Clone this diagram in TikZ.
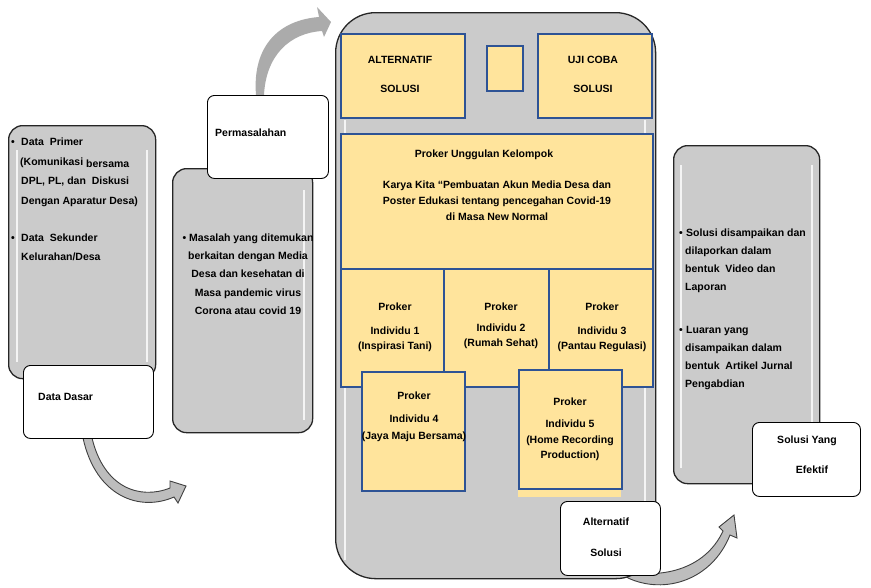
\documentclass[tikz,border=0pt]{standalone}
\usepackage{fontspec}
\setmainfont{Liberation Sans}
\definecolor{ylw}{HTML}{FFE49C}
\definecolor{blu}{HTML}{2E5395}
\definecolor{gry}{HTML}{CBCBCB}
\definecolor{arr}{HTML}{BDBDBD}
\tikzset{
 graybox/.style={draw=black!85, line width=1.3pt, fill=gry, rounded corners=14pt, inner sep=0pt},
 whitebox/.style={draw=black, line width=0.9pt, fill=white, rounded corners=7pt, inner sep=0pt},
 ybox/.style={draw=blu, line width=2pt, fill=ylw, inner sep=0pt},
 tx/.style={font=\bfseries\fontsize{10.5}{#1}\selectfont, inner sep=0pt, align=center},
 tx/.default=13,
 hl/.style={draw=white, line width=2pt, opacity=0.8},
 arrowd/.style={fill=arr, draw=black!75, line width=0.9pt},
 arrowl/.style={fill=black!33},
}
\begin{document}
\begin{tikzpicture}[x=1pt,y=-1pt]
\useasboundingbox (0,0) rectangle (871,587);

% curved arrows
\fill[arrowl] (256,95) .. controls (252,45) and (280,20) .. (319,17) -- (317,7) -- (331,22) -- (324,37) -- (322,31) .. controls (290,33) and (266,55) .. (264,95) -- cycle;
\filldraw[arrowd] (83,438) .. controls (96,497) and (140,512) .. (174,497) -- (178,503) -- (186,486) -- (170,481) -- (170,488) .. controls (140,500) and (104,488) .. (92,438) -- cycle;
\filldraw[arrowd] (620,570) .. controls (660,580) and (705,570) .. (723,531) -- (719,527) -- (734,515) -- (737,538) -- (730,535) .. controls (712,580) and (665,595) .. (628,578) -- cycle;

% gray panels
\node[graybox, anchor=north west, minimum width=147pt, minimum height=253pt] (g1) at (8,125) {};
\node[graybox, anchor=north west, minimum width=140pt, minimum height=264pt] (g2) at (172,168) {};
\node[graybox, anchor=north west, minimum width=146pt, minimum height=338pt] (g3) at (673,145) {};
\node[graybox, anchor=north west, minimum width=320pt, minimum height=566pt, rounded corners=40pt] (c) at (335,12) {};

% highlights
\draw[hl] (17,150) -- (17,362);
\draw[hl] (147,150) -- (147,362);
\draw[hl] (304,190) -- (304,420);
\draw[hl] (681,165) -- (681,468);
\draw[hl] (812,165) -- (812,468);
\draw[hl] (345,120) -- (345,560);
\draw[hl] (645,120) -- (645,560);

% yellow boxes
\node[ybox, anchor=north west, minimum width=124pt, minimum height=84pt] (a1) at (340,33) {};
\node[ybox, anchor=north west, minimum width=36pt, minimum height=45pt] (sq) at (486,45) {};
\node[ybox, anchor=north west, minimum width=114pt, minimum height=84pt] (u1) at (537,33) {};
\node[ybox, anchor=north west, minimum width=312pt, minimum height=135pt] (k) at (340,133) {};
\node[ybox, anchor=north west, minimum width=103pt, minimum height=118pt] (i1) at (340,268) {};
\node[ybox, anchor=north west, minimum width=105pt, minimum height=118pt] (i2) at (443,268) {};
\node[ybox, anchor=north west, minimum width=104pt, minimum height=118pt] (i3) at (548,268) {};
\fill[ylw] (518,486) rectangle (621,497);
\node[ybox, anchor=north west, minimum width=103pt, minimum height=119pt] (i4) at (361,371) {};
\node[ybox, anchor=north west, minimum width=103pt, minimum height=119pt] (i5) at (518,369) {};

% white boxes
\node[whitebox, anchor=north west, minimum width=130pt, minimum height=73pt] (d1) at (23,365) {};
\node[whitebox, anchor=north west, minimum width=121pt, minimum height=83pt] (p1) at (207,95) {};
\node[whitebox, anchor=north west, minimum width=100pt, minimum height=74pt] (alt) at (560,501) {};
\node[whitebox, anchor=north west, minimum width=108pt, minimum height=74pt] (s1) at (752,422) {};

% texts
\node[tx=19.5, align=left, anchor=north west] (g1t) at (11,138) {\makebox[10pt][l]{\textbullet}Data\ \ Primer\\
\hspace*{9pt}(Komunikasi \raisebox{-2pt}{bersama}\\
\hspace*{10pt}DPL, PL, dan\ \ Diskusi\\
\hspace*{10pt}Dengan Aparatur Desa)\\[17.5pt]
\makebox[10pt][l]{\textbullet}Data\ \ Sekunder\\
\hspace*{10pt}Kelurahan/Desa};
\node[tx, anchor=west] (d1t) at (38,397) {Data Dasar};
\node[tx, anchor=west] (p1t) at (215,133) {Permasalahan};
\node[tx=18, anchor=north] (g2t) at (248,234) {\textbullet\ Masalah yang ditemukan\\ berkaitan dengan Media\\ Desa dan kesehatan di\\[1pt] Masa pandemic virus\\ Corona atau covid 19};

\node[tx=15, anchor=north] (a1t) at (400,56) {ALTERNATIF\\[14pt]SOLUSI};
\node[tx=15, anchor=north] (u1t) at (593,56) {UJI COBA\\[14pt]SOLUSI};
\node[tx, anchor=center] (kt1) at (484,155) {Proker Unggulan Kelompok};
\node[tx=16, anchor=north] (kt2) at (497,181) {Karya Kita “Pembuatan Akun Media Desa dan\\ Poster Edukasi tentang pencegahan Covid-19\\ di Masa New Normal};
\node[tx=15, anchor=north] (i1t) at (395,303) {Proker\\[9pt]Individu 1\\(Inspirasi Tani)};
\node[tx=15, anchor=north] (i2t) at (501,303) {Proker\\[6pt]Individu 2\\(Rumah Sehat)};
\node[tx=15, anchor=north] (i3t) at (602,303) {Proker\\[9pt]Individu 3\\(Pantau Regulasi)};
\node[tx=17, anchor=north] (i4t) at (414,392) {Proker\\[6pt]Individu 4\\(Jaya Maju Bersama)};
\node[tx=15, anchor=north] (i5t) at (570,398) {Proker\\[7pt]Individu 5\\[1pt](Home Recording\\Production)};
\node[tx=15, anchor=north] (altt) at (606,518) {Alternatif\\[16pt]Solusi};

\node[tx=18, align=left, anchor=north west] (g3t) at (679,229) {\makebox[7pt][l]{\textbullet}Solusi disampaikan dan\\
\hspace*{6pt}dilaporkan dalam\\
\hspace*{6pt}bentuk\ \ Video dan\\
\hspace*{6pt}Laporan\\[25pt]
\makebox[7pt][l]{\textbullet}Luaran yang\\
\hspace*{6pt}disampaikan dalam\\
\hspace*{6pt}bentuk\ \ Artikel Jurnal\\
\hspace*{6pt}Pengabdian};
\node[tx=15, anchor=north] (s1t) at (807,436) {Solusi Yang\\[15pt]\hspace*{10pt}Efektif};
\end{tikzpicture}
\end{document}
